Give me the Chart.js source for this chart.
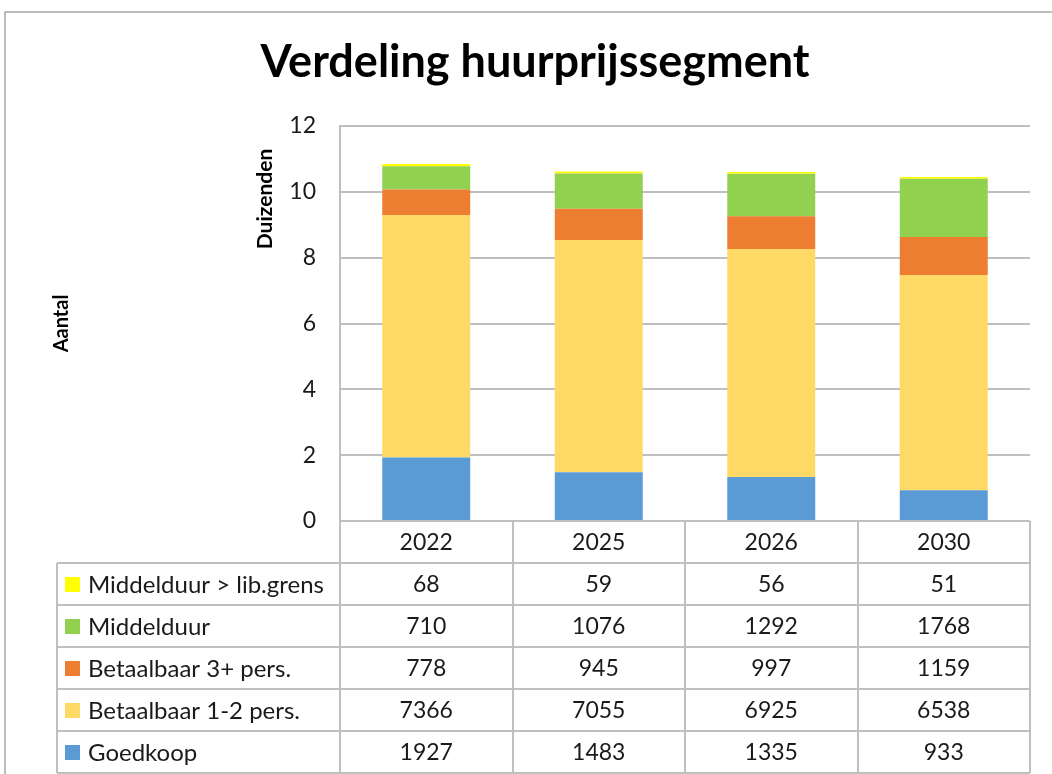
<!DOCTYPE html>
<html>
<head>
<meta charset="utf-8">
<script src="https://cdn.jsdelivr.net/npm/chart.js@4.4.1/dist/chart.umd.min.js"></script>
<style>
  html, body { margin: 0; padding: 0; background: #fff; }
  #wrap { position: relative; width: 1052px; height: 774px; }
</style>
</head>
<body>
<div id="wrap"><canvas id="chart"></canvas></div>
<script>
// jaren (categorieen)
const years = ['2022', '2025', '2026', '2030']

// aantallen per segment (van onder naar boven gestapeld)
const goedkoop = [1927, 1483, 1335, 933]
const betaalbaar12 = [7366, 7055, 6925, 6538]
const betaalbaar3 = [778, 945, 997, 1159]
const middelduur = [710, 1076, 1292, 1768]
const middelduurLib = [68, 59, 56, 51]

const yTicks = [0, 2, 4, 6, 8, 10, 12]

const FONT = 'Lato, "Open Sans", sans-serif'
const GRID = '#bfbfbf'

const toK = arr => arr.map(v => v / 1000)

const series = [
  { label: 'Goedkoop', raw: goedkoop, color: '#5b9bd5' },
  { label: 'Betaalbaar 1-2 pers.', raw: betaalbaar12, color: '#ffd966' },
  { label: 'Betaalbaar 3+ pers.', raw: betaalbaar3, color: '#ed7d31' },
  { label: 'Middelduur', raw: middelduur, color: '#92d050' },
  { label: 'Middelduur > lib.grens', raw: middelduurLib, color: '#ffff00' }
]

// tabel onder de grafiek + omlijsting + "Duizenden"
const dataTable = {
  id: 'dataTable',
  afterDraw(chart) {
    const { ctx, chartArea, scales } = chart
    const x = scales.x
    const left = chartArea.left
    const right = chartArea.right
    const colW = (right - left) / years.length
    const top = chartArea.bottom
    const rowH = 42
    const legendLeft = 57

    ctx.save()

    // frame
    ctx.strokeStyle = '#a6a6a6'
    ctx.lineWidth = 1.5
    ctx.beginPath()
    ctx.moveTo(1052, 12)
    ctx.lineTo(5, 12)
    ctx.lineTo(5, 774)
    ctx.stroke()

    // weergave-eenheid
    ctx.fillStyle = '#000'
    ctx.font = 'bold 21px ' + FONT
    ctx.translate(265, 199)
    ctx.rotate(-Math.PI / 2)
    ctx.textAlign = 'center'
    ctx.textBaseline = 'middle'
    ctx.fillText('Duizenden', 0, 0)
    ctx.setTransform(1, 0, 0, 1, 0, 0)

    const rows = series.slice().reverse()
    const bottom = top + rowH * (rows.length + 1)

    ctx.strokeStyle = GRID
    ctx.lineWidth = 2
    ctx.beginPath()
    for (let i = 0; i <= years.length; i++) {
      const cx = Math.round(left + i * colW)
      ctx.moveTo(cx, top)
      ctx.lineTo(cx, bottom)
    }
    ctx.moveTo(legendLeft, top + rowH)
    ctx.lineTo(legendLeft, bottom)
    for (let r = 1; r <= rows.length + 1; r++) {
      const ry = Math.round(top + r * rowH)
      ctx.moveTo(legendLeft, ry)
      ctx.lineTo(right, ry)
    }
    ctx.stroke()

    ctx.font = '23px ' + FONT
    ctx.fillStyle = '#1a1a1a'
    ctx.textBaseline = 'middle'
    ctx.textAlign = 'center'
    years.forEach((yr, i) => {
      ctx.fillText(yr, x.getPixelForValue(i), top + rowH / 2 + 1)
    })

    rows.forEach((s, r) => {
      const cy = top + rowH * (r + 1) + rowH / 2 + 1
      ctx.fillStyle = s.color
      ctx.fillRect(65, cy - 8, 15, 15)
      ctx.fillStyle = '#1a1a1a'
      ctx.textAlign = 'left'
      ctx.font = '24px ' + FONT
      ctx.fillText(s.label, 88, cy)
      ctx.textAlign = 'center'
      ctx.font = '23px ' + FONT
      s.raw.forEach((v, i) => {
        ctx.fillText(String(v), x.getPixelForValue(i), cy)
      })
    })

    ctx.restore()
  }
}

new Chart(document.getElementById('chart'), {
  type: 'bar',
  data: {
    labels: years,
    datasets: series.map(s => ({
      label: s.label,
      data: toK(s.raw),
      backgroundColor: s.color,
      borderWidth: 0,
      barPercentage: 0.51,
      categoryPercentage: 1
    }))
  },
  options: {
    responsive: true,
    maintainAspectRatio: false,
    animation: false,
    layout: {
      padding: { left: 40, right: 22, top: 0, bottom: 253 }
    },
    plugins: {
      legend: { display: false },
      tooltip: { enabled: false },
      title: {
        display: true,
        text: 'Verdeling huurprijssegment',
        color: '#000',
        font: { family: FONT, size: 45, weight: 'bold' },
        padding: { top: 35, bottom: 37 }
      }
    },
    scales: {
      x: {
        stacked: true,
        display: false
      },
      y: {
        stacked: true,
        min: 0,
        max: 12,
        afterBuildTicks: scale => {
          scale.ticks = yTicks.map(v => ({ value: v }))
        },
        afterFit: scale => {
          scale.width = 300
        },
        grid: { color: GRID, lineWidth: 2, drawTicks: false },
        border: { color: GRID, width: 2 },
        ticks: {
          padding: 24,
          color: '#1a1a1a',
          font: { family: FONT, size: 23 }
        },
        title: {
          display: true,
          text: 'Aantal',
          color: '#000',
          font: { family: FONT, size: 20, weight: 'bold' },
          padding: 10
        }
      }
    }
  },
  plugins: [dataTable]
})
</script>
</body>
</html>
